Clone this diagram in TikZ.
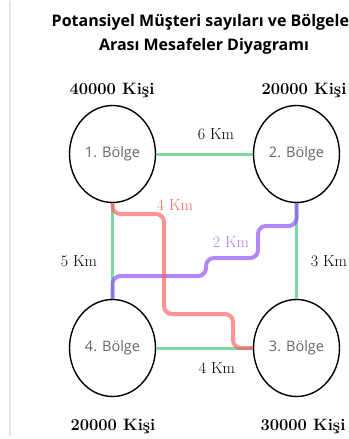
\documentclass[tikz,border=0pt]{standalone}
\usepackage{fontspec}
\usetikzlibrary{shapes.geometric}
\newfontfamily\osans{Open Sans}
\definecolor{edgegreen}{HTML}{7ED8A4}
\definecolor{redpath}{HTML}{FF5A5A}
\definecolor{redlabel}{HTML}{FF6464}
\definecolor{purplepath}{HTML}{8C50F0}
\definecolor{purplelabel}{HTML}{B682F5}
\definecolor{bolgegray}{HTML}{666666}
\definecolor{sidegray}{HTML}{E6E6E6}
\begin{document}
\begin{tikzpicture}[x=1pt,y=-1pt,
  region/.style={ellipse, draw=black, line width=1.4pt, minimum width=86pt, minimum height=97pt, inner sep=0pt, font=\osans\fontsize{14.5}{17}\selectfont, text=bolgegray},
  pop/.style={anchor=base, font=\bfseries\fontsize{16.5}{20}\selectfont},
  km/.style={anchor=base, font=\fontsize{16}{18}\selectfont},
  titletext/.style={anchor=base, font=\osans\bfseries\fontsize{16}{20}\selectfont},
  greenedge/.style={draw=edgegreen, line width=3pt},
  redroute/.style={draw=redpath, line width=4pt, draw opacity=0.66, rounded corners=8pt},
  purpleroute/.style={draw=purplepath, line width=4pt, draw opacity=0.68, rounded corners=8pt}
]
\useasboundingbox (0,0) rectangle (348,439);
\clip (0,0) rectangle (348,439);
\coordinate (gtop) at (10,1);
\coordinate (gbot) at (10,436);
\draw[sidegray, line width=1.5pt] (gtop) -- (gbot);

\node[titletext] (t1) at (204,27) {Potansiyel Müşteri sayıları ve Bölgeler};
\node[titletext] (t2) at (204,50) {Arası Mesafeler Diyagramı};

\node[region] (e1) at (112.5,154) {1. Bölge};
\node[region] (e2) at (296.5,154) {2. Bölge};
\node[region] (e3) at (296.5,348) {3. Bölge};
\node[region] (e4) at (112.5,348) {4. Bölge};

\draw[greenedge] (e1) -- (e2);
\draw[greenedge] (e1.south) -- (e4.north);
\draw[greenedge] (e2.south) -- (e3.north);
\draw[greenedge] (e4) -- (e3);

\draw[purpleroute] (e2.south) |- (258,226) |- (206,258) -- (206,276) -| (e4.north);
\draw[redroute] (e1.south) |- (164,214) |- (233,314) |- (e3.west);

\node[pop] (p1) at (112,94) {40000 Kişi};
\node[pop] (p2) at (304,94) {20000 Kişi};
\node[pop] (p4) at (113,430) {20000 Kişi};
\node[pop] (p3) at (303,430) {30000 Kişi};

\node[km] (k12) at (216,139) {6 Km};
\node[km, text=redlabel] (k13) at (175,210) {4 Km};
\node[km, text=purplelabel] (k24) at (231,247) {2 Km};
\node[km] (k14) at (79,266) {5 Km};
\node[km] (k23) at (329,266) {3 Km};
\node[km] (k43) at (217,373) {4 Km};
\end{tikzpicture}
\end{document}
